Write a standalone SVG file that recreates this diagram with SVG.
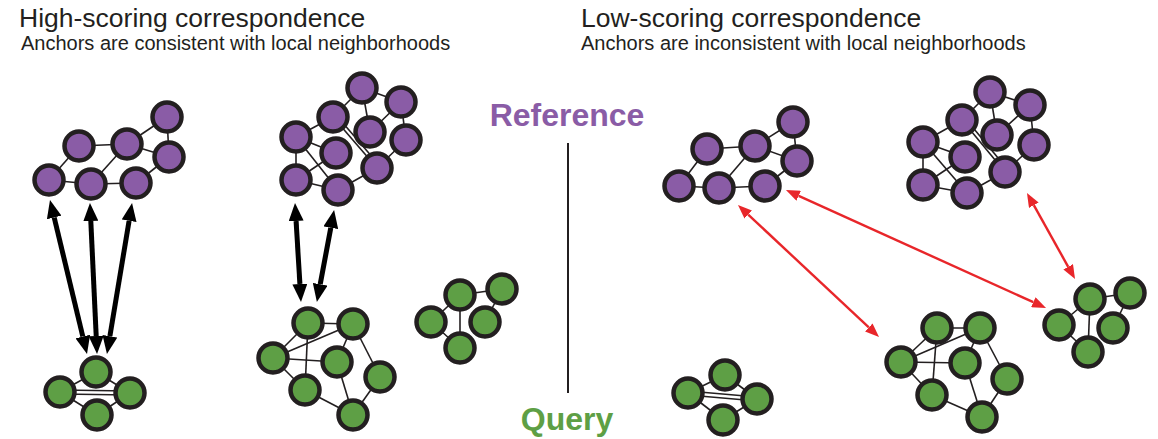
<svg xmlns="http://www.w3.org/2000/svg" width="1158" height="439" viewBox="0 0 1158 439">
<style>
.t{font-family:"Liberation Sans",Arial,sans-serif;fill:#231f20}
.h{font-size:26.5px}
.s{font-size:20px}
.lab{font-family:"Liberation Sans",Arial,sans-serif;font-weight:bold;font-size:32px}
.e{stroke:#231f20;stroke-width:1.6;fill:none}
.p{fill:#8a5ca6;stroke:#231f20;stroke-width:4.5}
.g{fill:#5e9f45;stroke:#231f20;stroke-width:4.5}
.ab{stroke:#000;stroke-width:5;fill:none;marker-start:url(#hb);marker-end:url(#hb)}
.ar{stroke:#e8262a;stroke-width:2.4;fill:none;marker-start:url(#hr);marker-end:url(#hr)}
</style>
<defs>
<marker id="hb" markerUnits="userSpaceOnUse" markerWidth="18" markerHeight="15" refX="0" refY="7.5" orient="auto-start-reverse" viewBox="0 0 18 15"><path d="M0,0 L18,7.5 L0,15 z" fill="#000"/></marker>
<marker id="hr" markerUnits="userSpaceOnUse" markerWidth="14" markerHeight="11" refX="0" refY="5.5" orient="auto-start-reverse" viewBox="0 0 14 11"><path d="M0,0 L14,5.5 L0,11 z" fill="#e8262a"/></marker>
</defs>
<rect width="1158" height="439" fill="#fff"/>

<g id="titles">
<text class="t h" x="19" y="26.5">High-scoring correspondence</text>
<text class="t s" x="21" y="50">Anchors are consistent with local neighborhoods</text>
<text class="t h" x="581" y="26.5">Low-scoring correspondence</text>
<text class="t s" x="581" y="50">Anchors are inconsistent with local neighborhoods</text>
<text class="lab" x="567" y="126" text-anchor="middle" fill="#8a5ca6">Reference</text>
<text class="lab" x="567" y="430" text-anchor="middle" fill="#5e9f45">Query</text>
<line x1="568" y1="143" x2="568" y2="393" stroke="#231f20" stroke-width="2"/>
</g>

<g id="ref-left-1">
<g class="e">
<line x1="49" y1="180" x2="79" y2="146"/><line x1="49" y1="180" x2="91" y2="184"/><line x1="91" y1="184" x2="136" y2="183"/>
<line x1="79" y1="146" x2="127" y2="144"/><line x1="91" y1="184" x2="127" y2="144"/><line x1="127" y1="144" x2="167" y2="117"/>
<line x1="127" y1="144" x2="169" y2="157"/><line x1="136" y1="183" x2="169" y2="157"/><line x1="167" y1="117" x2="169" y2="157"/>
</g>
<circle class="p" cx="167" cy="117" r="14.5"/><circle class="p" cx="79" cy="146" r="14.5"/><circle class="p" cx="127" cy="144" r="14.5"/>
<circle class="p" cx="169" cy="157" r="14.5"/><circle class="p" cx="49" cy="180" r="14.5"/><circle class="p" cx="91" cy="184" r="14.5"/><circle class="p" cx="136" cy="183" r="14.5"/>
</g>

<g id="ref-left-2">
<g class="e">
<line x1="362" y1="88" x2="333" y2="117"/><line x1="362" y1="88" x2="370" y2="132"/><line x1="362" y1="88" x2="401" y2="102"/>
<line x1="401" y1="102" x2="370" y2="132"/><line x1="401" y1="102" x2="406" y2="140"/><line x1="333" y1="117" x2="296" y2="137"/>
<line x1="296" y1="137" x2="336" y2="153"/><line x1="296" y1="137" x2="296" y2="180"/><line x1="296" y1="137" x2="338" y2="190"/>
<line x1="296" y1="180" x2="336" y2="153"/><line x1="296" y1="180" x2="338" y2="190"/>
<line x1="333" y1="117" x2="377" y2="168"/><line x1="336" y1="115" x2="380" y2="166"/>
<line x1="377" y1="168" x2="406" y2="140"/><line x1="377" y1="168" x2="338" y2="190"/>
</g>
<circle class="p" cx="362" cy="88" r="14.5"/><circle class="p" cx="401" cy="102" r="14.5"/><circle class="p" cx="333" cy="117" r="14.5"/>
<circle class="p" cx="370" cy="132" r="14.5"/><circle class="p" cx="406" cy="140" r="14.5"/><circle class="p" cx="296" cy="137" r="14.5"/>
<circle class="p" cx="336" cy="153" r="14.5"/><circle class="p" cx="377" cy="168" r="14.5"/><circle class="p" cx="296" cy="180" r="14.5"/><circle class="p" cx="338" cy="190" r="14.5"/>
</g>

<g id="query-left-1">
<g class="e">
<line x1="96" y1="372" x2="60" y2="392"/><line x1="96" y1="372" x2="130" y2="393"/>
<line x1="60" y1="390" x2="130" y2="391"/><line x1="60" y1="394" x2="130" y2="395"/>
<line x1="60" y1="392" x2="97" y2="415"/><line x1="97" y1="415" x2="130" y2="393"/>
</g>
<circle class="g" cx="96" cy="372" r="14.5"/><circle class="g" cx="60" cy="392" r="14.5"/><circle class="g" cx="130" cy="393" r="14.5"/><circle class="g" cx="97" cy="415" r="14.5"/>
</g>

<g id="query-left-2">
<g class="e">
<line x1="308" y1="323" x2="353" y2="324"/><line x1="308" y1="323" x2="273" y2="358"/><line x1="273" y1="358" x2="353" y2="324"/>
<line x1="308" y1="323" x2="305" y2="390"/><line x1="273" y1="358" x2="337" y2="362"/><line x1="273" y1="358" x2="305" y2="390"/>
<line x1="353" y1="324" x2="337" y2="362"/><line x1="353" y1="324" x2="380" y2="377"/><line x1="337" y1="362" x2="353" y2="415"/>
<line x1="305" y1="390" x2="353" y2="415"/><line x1="380" y1="377" x2="353" y2="415"/>
</g>
<circle class="g" cx="308" cy="323" r="14.5"/><circle class="g" cx="353" cy="324" r="14.5"/><circle class="g" cx="273" cy="358" r="14.5"/>
<circle class="g" cx="337" cy="362" r="14.5"/><circle class="g" cx="305" cy="390" r="14.5"/><circle class="g" cx="380" cy="377" r="14.5"/><circle class="g" cx="353" cy="415" r="14.5"/>
</g>

<g id="query-left-3">
<g class="e">
<line x1="460" y1="295" x2="502" y2="289"/><line x1="460" y1="295" x2="431" y2="322"/><line x1="460" y1="295" x2="460" y2="348"/>
<line x1="431" y1="322" x2="460" y2="348"/><line x1="502" y1="289" x2="485" y2="322"/>
</g>
<circle class="g" cx="460" cy="295" r="14.5"/><circle class="g" cx="502" cy="289" r="14.5"/><circle class="g" cx="431" cy="322" r="14.5"/>
<circle class="g" cx="485" cy="322" r="14.5"/><circle class="g" cx="460" cy="348" r="14.5"/>
</g>

<g id="ref-right-1">
<g class="e">
<line x1="679" y1="186" x2="707" y2="149"/><line x1="679" y1="186" x2="719" y2="188"/><line x1="719" y1="188" x2="765" y2="186"/>
<line x1="707" y1="149" x2="755" y2="146"/><line x1="719" y1="188" x2="755" y2="146"/><line x1="755" y1="146" x2="793" y2="122"/>
<line x1="755" y1="146" x2="797" y2="161"/><line x1="765" y1="186" x2="797" y2="161"/><line x1="793" y1="122" x2="797" y2="161"/>
</g>
<circle class="p" cx="793" cy="122" r="14.5"/><circle class="p" cx="707" cy="149" r="14.5"/><circle class="p" cx="755" cy="146" r="14.5"/>
<circle class="p" cx="797" cy="161" r="14.5"/><circle class="p" cx="679" cy="186" r="14.5"/><circle class="p" cx="719" cy="188" r="14.5"/><circle class="p" cx="765" cy="186" r="14.5"/>
</g>

<g id="ref-right-2">
<g class="e">
<line x1="990" y1="92" x2="962" y2="120"/><line x1="990" y1="92" x2="997" y2="135"/><line x1="990" y1="92" x2="1030" y2="105"/>
<line x1="1030" y1="105" x2="997" y2="135"/><line x1="1030" y1="105" x2="1034" y2="145"/><line x1="962" y1="120" x2="923" y2="142"/>
<line x1="923" y1="142" x2="965" y2="157"/><line x1="923" y1="142" x2="923" y2="185"/><line x1="923" y1="142" x2="967" y2="193"/>
<line x1="923" y1="185" x2="965" y2="157"/><line x1="923" y1="185" x2="967" y2="193"/>
<line x1="962" y1="120" x2="1005" y2="172"/><line x1="965" y1="118" x2="1008" y2="170"/>
<line x1="1005" y1="172" x2="1034" y2="145"/><line x1="1005" y1="172" x2="967" y2="193"/>
</g>
<circle class="p" cx="990" cy="92" r="14.5"/><circle class="p" cx="1030" cy="105" r="14.5"/><circle class="p" cx="962" cy="120" r="14.5"/>
<circle class="p" cx="997" cy="135" r="14.5"/><circle class="p" cx="1034" cy="145" r="14.5"/><circle class="p" cx="923" cy="142" r="14.5"/>
<circle class="p" cx="965" cy="157" r="14.5"/><circle class="p" cx="1005" cy="172" r="14.5"/><circle class="p" cx="923" cy="185" r="14.5"/><circle class="p" cx="967" cy="193" r="14.5"/>
</g>

<g id="query-right-1">
<g class="e">
<line x1="725" y1="375" x2="688" y2="393"/><line x1="725" y1="375" x2="757" y2="399"/>
<line x1="688" y1="391" x2="757" y2="397"/><line x1="688" y1="395" x2="757" y2="401"/>
<line x1="688" y1="393" x2="723" y2="420"/><line x1="723" y1="420" x2="757" y2="399"/>
</g>
<circle class="g" cx="725" cy="375" r="14.5"/><circle class="g" cx="688" cy="393" r="14.5"/><circle class="g" cx="757" cy="399" r="14.5"/><circle class="g" cx="723" cy="420" r="14.5"/>
</g>

<g id="query-right-2">
<g class="e">
<line x1="937" y1="328" x2="980" y2="328"/><line x1="937" y1="328" x2="901" y2="362"/><line x1="901" y1="362" x2="980" y2="328"/>
<line x1="937" y1="328" x2="932" y2="395"/><line x1="901" y1="362" x2="965" y2="363"/><line x1="901" y1="362" x2="932" y2="395"/>
<line x1="980" y1="328" x2="965" y2="363"/><line x1="980" y1="328" x2="1007" y2="379"/><line x1="965" y1="363" x2="982" y2="417"/>
<line x1="932" y1="395" x2="982" y2="417"/><line x1="1007" y1="379" x2="982" y2="417"/>
</g>
<circle class="g" cx="937" cy="328" r="14.5"/><circle class="g" cx="980" cy="328" r="14.5"/><circle class="g" cx="901" cy="362" r="14.5"/>
<circle class="g" cx="965" cy="363" r="14.5"/><circle class="g" cx="932" cy="395" r="14.5"/><circle class="g" cx="1007" cy="379" r="14.5"/><circle class="g" cx="982" cy="417" r="14.5"/>
</g>

<g id="query-right-3">
<g class="e">
<line x1="1090" y1="299" x2="1130" y2="293"/><line x1="1090" y1="299" x2="1059" y2="325"/><line x1="1090" y1="299" x2="1088" y2="352"/>
<line x1="1059" y1="325" x2="1088" y2="352"/><line x1="1130" y1="293" x2="1113" y2="328"/>
</g>
<circle class="g" cx="1090" cy="299" r="14.5"/><circle class="g" cx="1130" cy="293" r="14.5"/><circle class="g" cx="1059" cy="325" r="14.5"/>
<circle class="g" cx="1113" cy="328" r="14.5"/><circle class="g" cx="1088" cy="352" r="14.5"/>
</g>

<g id="connectors">
<line class="ab" x1="54.2" y1="217.5" x2="82.8" y2="336.5"/>
<line class="ab" x1="90.8" y1="221" x2="96.2" y2="336"/>
<line class="ab" x1="129.1" y1="220.8" x2="109.9" y2="336.2"/>
<line class="ab" x1="296.1" y1="221" x2="299.9" y2="284"/>
<line class="ab" x1="330.8" y1="227.7" x2="320.2" y2="284.3"/>
<line class="ar" x1="748.2" y1="214.6" x2="868.8" y2="327.4"/>
<line class="ar" x1="798.7" y1="195.8" x2="1033.3" y2="302.2"/>
<line class="ar" x1="1033.8" y1="205.2" x2="1068.2" y2="266.8"/>
</g>
</svg>
